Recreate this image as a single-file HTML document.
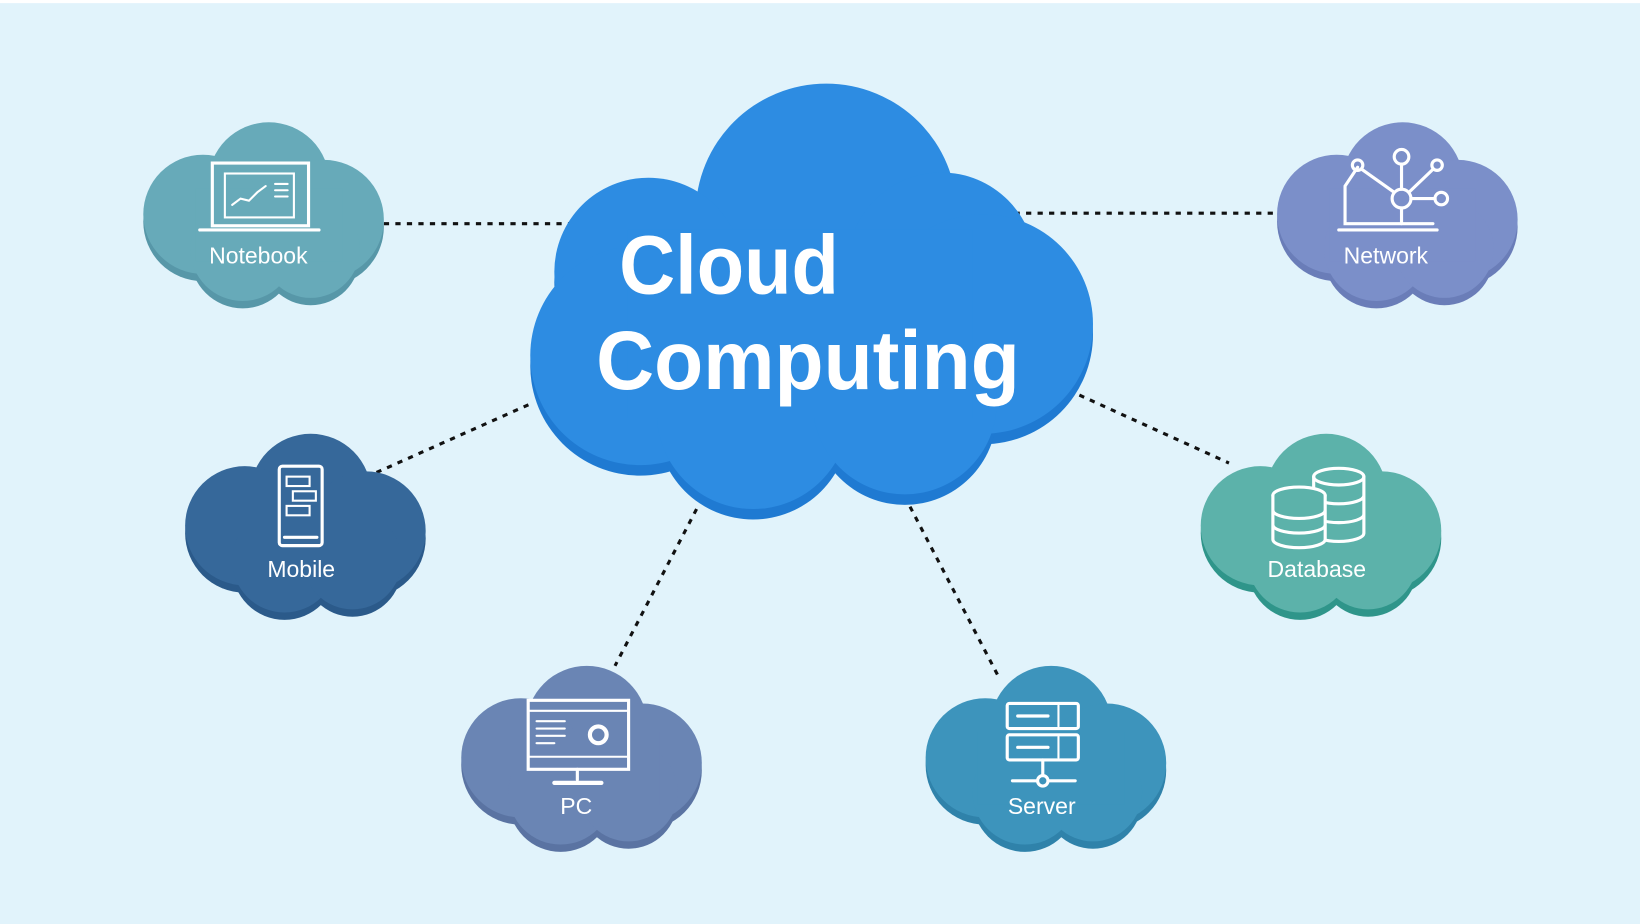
<!DOCTYPE html>
<html><head><meta charset="utf-8"><style>
html,body{margin:0;padding:0;background:#e1f3fb;}
svg{display:block}
text{font-family:"Liberation Sans",sans-serif;fill:#fff}
</style></head><body>
<svg width="1640" height="924" viewBox="0 0 1568 884" preserveAspectRatio="none" xmlns="http://www.w3.org/2000/svg">
<defs>
<g id="c">
<circle cx="125" cy="65" r="58"/><circle cx="62" cy="95" r="57"/><circle cx="178" cy="100" r="57"/>
<circle cx="100" cy="128" r="50"/><circle cx="165" cy="128" r="47"/><rect x="55" y="70" width="140" height="70"/>
</g>
<g id="m">
<circle cx="790" cy="205" r="125"/><circle cx="620" cy="260" r="90"/><circle cx="612" cy="340" r="105"/><circle cx="900" cy="255" r="90"/><circle cx="940" cy="310" r="105"/><circle cx="720" cy="395" r="92"/><circle cx="865" cy="385" r="88"/><rect x="600" y="220" width="330" height="180"/>
</g>
</defs>
<rect width="1568" height="884" fill="#e1f3fb"/>
<rect width="1568" height="3" fill="#fff"/>
<g stroke="#111" stroke-width="3" stroke-dasharray="5 6" fill="none">
<line x1="367" y1="214" x2="556" y2="214"/>
<line x1="937" y1="204" x2="1222" y2="204"/>
<line x1="360" y1="452" x2="508" y2="386"/>
<line x1="1032" y1="378" x2="1175" y2="443"/>
<line x1="666" y1="487" x2="588" y2="637"/>
<line x1="865" y1="475" x2="955" y2="648"/>
</g>
<use href="#m" fill="#1f7ad2" y="10"/>
<use href="#m" fill="#2d8ce2"/>
<text x="592" y="281" font-size="80" font-weight="bold" textLength="210" lengthAdjust="spacingAndGlyphs">Cloud</text>
<text x="570" y="372" font-size="80" font-weight="bold" textLength="405" lengthAdjust="spacingAndGlyphs">Computing</text>

<g transform="translate(132,110)"><use href="#c" fill="#5797a8" y="7"/><use href="#c" fill="#67aab9"/></g>
<g transform="translate(1216,110)"><use href="#c" fill="#6a7db8" y="7"/><use href="#c" fill="#7b8fc9"/></g>
<g transform="translate(172,408)"><use href="#c" fill="#2b5a8a" y="7"/><use href="#c" fill="#36689a"/></g>
<g transform="translate(1143,408)"><use href="#c" fill="#2f958a" y="7"/><use href="#c" fill="#5cb2aa"/></g>
<g transform="translate(436,630)"><use href="#c" fill="#5a73a2" y="7"/><use href="#c" fill="#6a85b4"/></g>
<g transform="translate(880,630)"><use href="#c" fill="#2f82aa" y="7"/><use href="#c" fill="#3d94bc"/></g>

<g font-size="22" text-anchor="middle">
<text x="247" y="252">Notebook</text>
<text x="1325" y="252">Network</text>
<text x="288" y="552">Mobile</text>
<text x="1259" y="552">Database</text>
<text x="551" y="779">PC</text>
<text x="996" y="779">Server</text>
</g>

<g stroke="#fff" stroke-width="3" fill="none" stroke-linecap="round">
<rect x="203" y="156" width="92" height="60"/><rect x="215" y="166" width="66" height="42" stroke-width="2"/>
<line x1="191" y1="220" x2="305" y2="220"/>
<polyline points="222,196 230,190 238,192 246,184 254,178" stroke-width="2"/>
<line x1="263" y1="176" x2="275" y2="176" stroke-width="2"/><line x1="263" y1="182" x2="275" y2="182" stroke-width="2"/><line x1="263" y1="188" x2="275" y2="188" stroke-width="2"/>
<polyline points="1298,160 1286,178 1286,214 1370,214"/><line x1="1280" y1="220" x2="1374" y2="220"/>
<circle cx="1340" cy="150" r="7"/><circle cx="1340" cy="190" r="9"/><circle cx="1298" cy="158" r="5"/><circle cx="1374" cy="158" r="5"/><circle cx="1378" cy="190" r="6"/>
<line x1="1340" y1="157" x2="1340" y2="181"/><line x1="1302" y1="162" x2="1333" y2="184"/><line x1="1370" y1="162" x2="1347" y2="184"/><line x1="1349" y1="190" x2="1372" y2="190"/><line x1="1340" y1="199" x2="1340" y2="214"/>
<rect x="267" y="446" width="41" height="76" rx="3"/><line x1="272" y1="514" x2="303" y2="514"/>
<rect x="274" y="456" width="22" height="9" stroke-width="2"/><rect x="280" y="470" width="22" height="9" stroke-width="2"/><rect x="274" y="484" width="22" height="9" stroke-width="2"/>
<ellipse cx="1280" cy="456" rx="24" ry="8"/><path d="M1256 456 V510 A24 8 0 0 0 1304 510 V456 M1256 474 A24 8 0 0 0 1304 474 M1256 492 A24 8 0 0 0 1304 492"/>
<ellipse cx="1242" cy="474" rx="25" ry="8" fill="#5cb2aa"/><path d="M1217 474 V516 A25 8 0 0 0 1267 516 V474 M1217 488 A25 8 0 0 0 1267 488 M1217 502 A25 8 0 0 0 1267 502" fill="#5cb2aa"/>
<rect x="505" y="670" width="96" height="66"/><line x1="505" y1="680" x2="601" y2="680" stroke-width="2"/><line x1="505" y1="724" x2="601" y2="724" stroke-width="2"/>
<line x1="552" y1="736" x2="552" y2="746"/><line x1="530" y1="749" x2="575" y2="749" stroke-width="4"/>
<line x1="513" y1="690" x2="540" y2="690" stroke-width="2"/><line x1="513" y1="697" x2="540" y2="697" stroke-width="2"/><line x1="513" y1="704" x2="540" y2="704" stroke-width="2"/><line x1="513" y1="711" x2="530" y2="711" stroke-width="2"/>
<circle cx="572" cy="703" r="8" stroke-width="4"/>
<rect x="963" y="673" width="68" height="24" rx="2"/><rect x="963" y="703" width="68" height="24" rx="2"/>
<line x1="973" y1="685" x2="1002" y2="685"/><line x1="973" y1="715" x2="1002" y2="715"/><line x1="1012" y1="675" x2="1012" y2="695" stroke-width="2"/><line x1="1012" y1="705" x2="1012" y2="725" stroke-width="2"/>
<line x1="997" y1="727" x2="997" y2="742"/><circle cx="997" cy="747" r="5"/><line x1="968" y1="747" x2="992" y2="747"/><line x1="1002" y1="747" x2="1028" y2="747"/>
</g>
</svg>
</body></html>
